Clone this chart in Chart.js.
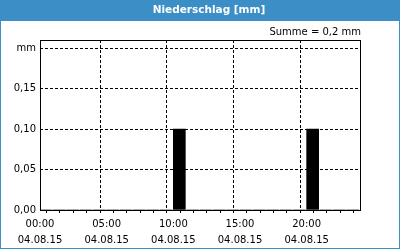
<!DOCTYPE html>
<html>
<head>
<meta charset="utf-8">
<script src="https://cdn.jsdelivr.net/npm/chart.js@4"></script>
<style>
  html, body { margin: 0; padding: 0; background: #fff; }
  canvas { display: block; }
</style>
</head>
<body>
<canvas id="chart" width="400" height="250"></canvas>
<script>
// hourly precipitation on 04.08.15 (mm)
const hours = [0, 1, 2, 3, 4, 5, 6, 7, 8, 9, 10, 11, 12, 13, 14, 15, 16, 17, 18, 19, 20, 21, 22, 23];
const precip = [0, 0, 0, 0, 0, 0, 0, 0, 0, 0, 0.1, 0, 0, 0, 0, 0, 0, 0, 0, 0, 0.1, 0, 0, 0];
const xLabelTimes = { 0: "00:00", 5: "05:00", 10: "10:00", 15: "15:00", 20: "20:00" };
const dateLabel = "04.08.15";
const yTicks = [0, 0.05, 0.1, 0.15, 0.2];
const yTickLabels = ["0,00", "0,05", "0,10", "0,15", "mm"];
const title = "Niederschlag [mm]";
const sumText = "Summe = 0,2 mm";

const FONT = "DejaVu Sans";
const BLUE = "#3b8fc6";

const framePlugin = {
  id: "frame",
  beforeDraw(chart) {
    const ctx = chart.ctx;
    ctx.save();
    ctx.fillStyle = "#fff";
    ctx.fillRect(0, 0, chart.width, chart.height);
    ctx.fillStyle = BLUE;
    ctx.fillRect(0, 0, chart.width, 21);
    ctx.strokeStyle = BLUE;
    ctx.lineWidth = 1;
    ctx.strokeRect(0.5, 0.5, chart.width - 1, chart.height - 2);
    ctx.fillStyle = "#fff";
    ctx.font = "bold 10.5px " + FONT;
    ctx.textAlign = "center";
    ctx.textBaseline = "middle";
    ctx.fillText(title, 209, 10);
    ctx.fillStyle = "#000";
    ctx.font = "10px " + FONT;
    ctx.textAlign = "right";
    ctx.fillText(sumText, 361, 32);
    ctx.restore();
  },
  afterDatasetsDraw(chart) {
    const a = chart.chartArea;
    const ctx = chart.ctx;
    ctx.save();
    ctx.strokeStyle = "#000";
    ctx.lineWidth = 1;
    ctx.strokeRect(a.left + 0.5, a.top + 0.5, a.right - a.left, a.bottom - a.top);
    ctx.restore();
  }
};

new Chart(document.getElementById("chart"), {
  type: "bar",
  data: {
    datasets: [{
      data: hours.map((h, i) => ({ x: h + 0.45, y: precip[i] })),
      backgroundColor: "#000",
      borderWidth: 0,
      barThickness: 12
    }]
  },
  plugins: [framePlugin],
  options: {
    responsive: false,
    animation: false,
    layout: { padding: { top: 40, right: 40, left: 0, bottom: 0 } },
    plugins: { legend: { display: false }, tooltip: { enabled: false } },
    scales: {
      x: {
        type: "linear",
        min: 0,
        max: 24,
        offset: false,
        afterFit: s => { s.height = 40; },
        afterBuildTicks: s => { s.ticks = hours.concat([24]).map(v => ({ value: v })); },
        grid: {
          color: c => (c.tick && c.tick.value % 5 === 0 ? "#000" : "rgba(0,0,0,0)"),
          tickColor: "#000",
          tickLength: 3,
          drawTicks: true
        },
        border: { display: false, dash: [3, 2] },
        ticks: {
          autoSkip: false,
          maxRotation: 0,
          padding: 3,
          color: "#000",
          font: { family: FONT, size: 10, lineHeight: 1.6 },
          callback: v => (xLabelTimes[v] ? [xLabelTimes[v], dateLabel] : "")
        }
      },
      y: {
        min: 0,
        max: 0.21,
        afterFit: s => { s.width = 40; },
        afterBuildTicks: s => { s.ticks = yTicks.map(v => ({ value: v })); },
        grid: { color: "#000", drawTicks: false },
        border: { display: false, dash: [3, 2] },
        ticks: {
          padding: 4,
          color: "#000",
          font: { family: FONT, size: 10 },
          callback: (v, i) => yTickLabels[i]
        }
      }
    }
  }
});
</script>
</body>
</html>
